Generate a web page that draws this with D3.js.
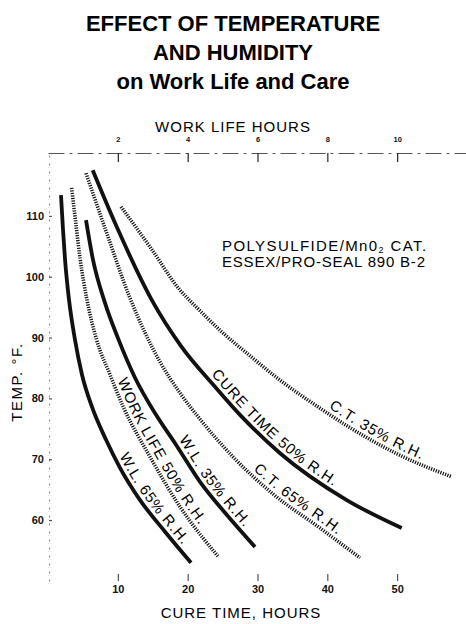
<!DOCTYPE html>
<html lang="en">
<head>
<meta charset="UTF-8">
<title>Effect of Temperature and Humidity</title>
<script src="https://d3js.org/d3.v7.min.js"></script>
<style>
  body { margin: 0; background: #fff; }
  svg { display: block; font-family: "Liberation Sans", Arial, sans-serif; }
</style>
</head>
<body>
<div id="chart"></div>
<script>
// [cure time hours, temp F]
var wl65 = [[1.86,113.4],[2.15,107.7],[2.44,102.8],[3.01,96.2],[3.87,89.6],[4.87,83.9],[6.3,78.6],[8.31,73.2],[10.31,68.6],[13.18,63.3],[16.76,58.1],[20.48,53.0]];
var wl50 = [[3.39,114.6],[4.01,108.5],[4.58,103.1],[5.58,96.2],[6.97,89.6],[8.88,83.9],[10.78,78.6],[14.61,70.4],[18.9,62.2],[24.39,54.0]];
var wl35 = [[5.44,109.3],[6.44,102.8],[8.16,95.7],[10.02,89.9],[12.46,83.4],[15.47,77.3],[18.33,72.4],[21.77,66.3],[25.35,61.2],[29.64,55.6]];
var ct65 = [[5.44,117.0],[8.16,108.0],[11.74,96.5],[16.04,86.0],[18.9,80.9],[21.77,76.6],[26.49,70.4],[32.22,64.3],[38.95,58.7],[44.68,53.8]];
var ct50 = [[6.4,117.5],[9.84,108.2],[14.85,96.2],[19.05,88.6],[24.16,81.6],[27.5,77.3],[33.23,71.0],[42.78,63.3],[50.65,58.7]];
var ct35 = [[10.45,111.5],[14.61,104.9],[18.9,97.8],[21.34,94.9],[24.63,91.2],[28.93,87.0],[33.23,83.0],[38.95,78.4],[42.82,75.5],[49.98,70.9],[57.85,67.1]];

var seriesNames = ["W.L. 65% R.H.", "WORK LIFE 50% R.H.", "W.L. 35% R.H.", "C.T. 65% R.H.", "CURE TIME 50% R.H.", "C.T. 35% R.H."];
var seriesData = [wl65, wl50, wl35, ct65, ct50, ct35];
var dotted = [false, true, false, true, false, true];
// temperature where each curve label begins
var labelStart = [70.2, 82.7, 72.8, 67.7, 83.4, 77.8];

var tempTicks = [60, 70, 80, 90, 100, 110];
var cureTicks = [10, 20, 30, 40, 50];
var workTicks = [2, 4, 6, 8, 10];

var width = 466, height = 624;

var svg = d3.select("#chart").append("svg")
    .attr("width", width)
    .attr("height", height);

var x = d3.scaleLinear().domain([0, 60]).range([48, 467]);
var xTop = d3.scaleLinear().domain([0, 12]).range([48, 467]);
var y = d3.scaleLinear().domain([50, 120]).range([581, 155]);

// title
var title = ["EFFECT OF TEMPERATURE", "AND HUMIDITY", "on Work Life and Care"];
svg.selectAll(".title")
    .data(title)
    .enter().append("text")
    .attr("class", "title")
    .attr("x", 233)
    .attr("y", function (d, i) { return 31 + i * 29; })
    .attr("text-anchor", "middle")
    .style("font-size", "22px")
    .style("font-weight", "bold")
    .text(function (d) { return d; });

// top axis (work life)
var topAxis = svg.append("g")
    .attr("transform", "translate(0,153)")
    .call(d3.axisTop(xTop).tickValues(workTicks).tickSizeInner(-9).tickSizeOuter(0).tickPadding(11));
topAxis.select(".domain").attr("stroke", "#555").attr("stroke-dasharray", "16,5,3,5");
topAxis.selectAll("text").style("font-size", "7.5px").style("font-weight", "bold").attr("fill", "#111");
topAxis.selectAll(".tick line").attr("stroke", "#222").attr("stroke-width", 1.2);

// left axis (temp)
var leftAxis = svg.append("g")
    .attr("transform", "translate(49,0)")
    .call(d3.axisLeft(y).tickValues(tempTicks).tickSizeInner(-3).tickSizeOuter(0).tickPadding(5));
leftAxis.select(".domain").attr("stroke", "#888").attr("stroke-dasharray", "2,6");
leftAxis.selectAll("text").style("font-size", "11px").style("font-weight", "bold").attr("fill", "#111");
leftAxis.selectAll(".tick line").attr("stroke", "#333");

// bottom axis (cure time)
var bottomAxis = svg.append("g")
    .attr("transform", "translate(0,581)")
    .call(d3.axisBottom(x).tickValues(cureTicks).tickSizeInner(-7).tickSizeOuter(0).tickPadding(4));
bottomAxis.select(".domain").attr("stroke", "none");
bottomAxis.selectAll("text").style("font-size", "11px").style("font-weight", "bold").attr("fill", "#111");
bottomAxis.selectAll(".tick line").attr("stroke", "#333");

// axis titles
svg.append("text")
    .attr("x", 233).attr("y", 132)
    .attr("text-anchor", "middle")
    .style("font-size", "15px").style("letter-spacing", "1px")
    .text("WORK LIFE HOURS");

svg.append("text")
    .attr("x", 241).attr("y", 618)
    .attr("text-anchor", "middle")
    .style("font-size", "15px").style("letter-spacing", "1px")
    .text("CURE TIME, HOURS");

svg.append("text")
    .attr("transform", "translate(22,382) rotate(-90)")
    .attr("text-anchor", "middle")
    .style("font-size", "15px").style("letter-spacing", "1.5px")
    .text("TEMP. °F.");

// product note
var note = svg.append("text")
    .attr("x", 222).attr("y", 251)
    .style("font-size", "15px").style("letter-spacing", "1.4px");
note.append("tspan").text("POLYSULFIDE/Mn0");
note.append("tspan").attr("dy", 2).style("font-size", "9px").text("2");
note.append("tspan").attr("dy", -2).text(" CAT.");
svg.append("text")
    .attr("x", 222).attr("y", 267)
    .style("font-size", "15px").style("letter-spacing", "0.8px")
    .text("ESSEX/PRO-SEAL 890 B-2");

// curves
var line = d3.line()
    .x(function (d) { return x(d[0]); })
    .y(function (d) { return y(d[1]); })
    .curve(d3.curveMonotoneX);

seriesData.forEach(function (pts, i) {
    var p = svg.append("path")
        .attr("id", "curve" + i)
        .attr("d", line(pts))
        .attr("fill", "none")
        .attr("stroke", "#111")
        .attr("stroke-width", dotted[i] ? 3.6 : 3.8)
        .attr("stroke-dasharray", dotted[i] ? "1.2,1.3" : null);

    // find how far along the curve the label should start
    var node = p.node(), len = node.getTotalLength(), ty = y(labelStart[i]);
    var best = 0, bestD = 1e9;
    for (var l = 0; l <= len; l += 0.5) {
        var pt = node.getPointAtLength(l);
        if (Math.abs(pt.y - ty) < bestD) { bestD = Math.abs(pt.y - ty); best = l; }
    }

    svg.append("text")
        .attr("dy", -5)
        .style("font-size", "15px")
        .style("letter-spacing", "1px")
        .append("textPath")
        .attr("href", "#curve" + i)
        .attr("startOffset", best)
        .text(seriesNames[i]);
});
</script>
</body>
</html>
